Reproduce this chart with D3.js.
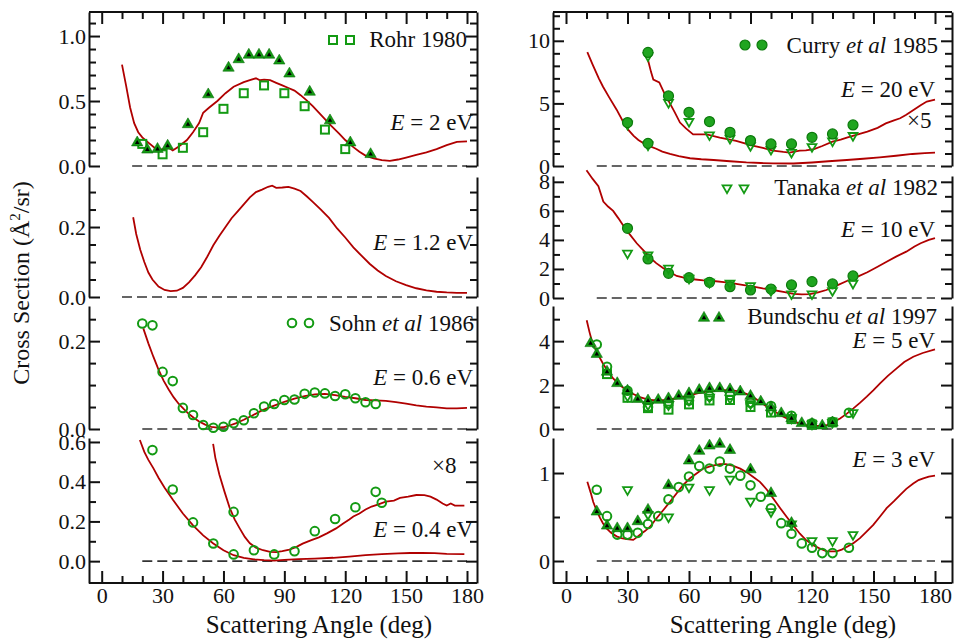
<!DOCTYPE html>
<html>
<head>
<meta charset="utf-8">
<script src="https://cdnjs.cloudflare.com/ajax/libs/d3/7.8.5/d3.min.js"></script>
<style>
  body { margin: 0; background: #fff; }
  svg text { font-family: "Liberation Serif", "Times New Roman", serif; font-size: 23px; fill: #111; }
  svg .axis text { font-size: 22px; }
  svg text.title { font-size: 25px; }
</style>
</head>
<body>
<script>
// ---- data: [angle (deg), cross section (A^2/sr)] ----

// E = 2 eV
const theoryE2 = [[10,0.78],[12,0.62],[14,0.45],[16,0.33],[18,0.26],[20,0.22],[23,0.18],[26,0.14],[28,0.125],[31,0.13],[33,0.14],[35,0.12],[38,0.15],[42,0.2],[45,0.26],[48,0.33],[50,0.41],[53,0.45],[57,0.5],[61,0.56],[65,0.61],[70,0.645],[73,0.66],[76,0.675],[78,0.66],[80,0.665],[83,0.66],[86,0.64],[89,0.62],[92,0.6],[95,0.58],[98,0.545],[101,0.505],[104,0.46],[107,0.41],[110,0.36],[113,0.31],[117,0.25],[120,0.2],[124,0.145],[127,0.11],[130,0.08],[134,0.058],[138,0.045],[142,0.04],[146,0.05],[150,0.065],[155,0.085],[160,0.105],[165,0.13],[170,0.16],[175,0.185],[180,0.19]];
const rohrE2Ang = [20,30,40,50,60,70,80,90,100,110,120];
const rohrE2 = [0.17,0.09,0.14,0.26,0.44,0.56,0.62,0.56,0.46,0.28,0.13];
const bundE2Ang = [17.5,22.5,27.5,32.5,42.5,52.5,62.5,67.5,72.5,77.5,82.5,87.5,92.5,102.5,112.5,122.5,132.5];
const bundE2 = [0.18,0.125,0.13,0.155,0.32,0.55,0.755,0.82,0.855,0.855,0.855,0.81,0.71,0.57,0.35,0.18,0.09];

// E = 1.2 eV
const theoryE12 = [[15.5,0.228],[17,0.18],[19,0.135],[21,0.1],[23,0.07],[25,0.05],[28,0.03],[31,0.02],[34,0.017],[37,0.018],[40,0.026],[43,0.042],[46,0.062],[49,0.085],[52,0.115],[55,0.148],[58,0.175],[61,0.2],[64,0.225],[67,0.245],[70,0.265],[73,0.285],[76,0.3],[79,0.307],[82,0.315],[84,0.318],[86,0.312],[89,0.313],[92,0.315],[95,0.31],[98,0.303],[101,0.288],[104,0.272],[108,0.25],[112,0.226],[116,0.196],[120,0.17],[124,0.142],[128,0.118],[132,0.095],[136,0.076],[140,0.06],[145,0.045],[150,0.034],[155,0.025],[160,0.019],[165,0.015],[170,0.013],[175,0.012],[180,0.012]];

// E = 0.6 eV
const theoryE06 = [[20.5,0.229],[23,0.195],[25.5,0.164],[28,0.135],[30.5,0.11],[33,0.09],[35.5,0.072],[38,0.057],[40.5,0.045],[43,0.034],[45.5,0.025],[48,0.017],[51,0.01],[54,0.005],[57,0.003],[60,0.004],[63,0.008],[66,0.013],[70,0.021],[74,0.03],[78,0.04],[82,0.048],[86,0.055],[90,0.062],[95,0.069],[100,0.075],[105,0.079],[110,0.08],[115,0.077],[120,0.073],[125,0.07],[130,0.066],[135,0.065],[140,0.064],[145,0.061],[150,0.058],[155,0.054],[160,0.051],[165,0.049],[170,0.047],[175,0.047],[180,0.048]];
const sohnE06Ang = [20,25,30,35,40,45,50,55,60,65,70,75,80,85,90,95,100,105,110,115,120,125,130,135];
const sohnE06 = [0.24,0.236,0.13,0.109,0.048,0.032,0.009,0.003,0.005,0.013,0.02,0.036,0.051,0.057,0.066,0.067,0.08,0.083,0.081,0.075,0.079,0.07,0.061,0.057];

// E = 0.4 eV (plus the x8 copy)
const theoryE04 = [[18.8,0.61],[21,0.55],[23,0.51],[25.5,0.467],[28,0.42],[31,0.37],[35,0.31],[40,0.24],[45,0.18],[50,0.13],[55,0.089],[60,0.055],[65,0.03],[70,0.016],[75,0.009],[80,0.005],[85,0.003],[90,0.006],[97,0.01],[105,0.013],[114,0.017],[122,0.023],[130,0.03],[138,0.035],[146,0.039],[152,0.041],[158,0.041],[164,0.04],[170,0.037],[178.7,0.035]];
const theoryE04x8 = [[54.9,0.59],[56,0.52],[58,0.435],[60.5,0.35],[63,0.27],[65.5,0.21],[68,0.165],[70.5,0.122],[73,0.09],[76,0.068],[79.5,0.055],[83,0.047],[86,0.045],[89,0.05],[92.5,0.058],[96,0.072],[99,0.088],[103,0.105],[107,0.12],[111,0.14],[115.5,0.165],[119,0.19],[122,0.21],[124,0.225],[127,0.24],[130,0.26],[133,0.275],[136,0.285],[140,0.3],[144,0.305],[147,0.318],[151,0.325],[155,0.333],[159,0.332],[162,0.325],[165,0.31],[168,0.29],[170,0.28],[172,0.29],[174,0.28],[176,0.28],[178.7,0.28]];
const sohnE04Ang = [25,35,45,55,65];
const sohnE04 = [0.559,0.361,0.195,0.089,0.034];
const sohnE04x8Ang = [65,75,85,95,105,115,125,135,138];
const sohnE04x8 = [0.248,0.055,0.034,0.05,0.151,0.212,0.271,0.349,0.294];

// E = 20 eV (plus the x5 copy)
const theoryE20 = [[10.4,9.1],[13,8.1],[16,7.0],[18,6.35],[21,5.5],[24.7,4.5],[28,3.5],[30.4,2.88],[33,2.4],[35.3,2.08],[38,1.8],[40.1,1.63],[44,1.38],[47,1.15],[50.7,0.96],[55,0.78],[60.5,0.62],[66,0.54],[72,0.48],[80,0.38],[88,0.29],[95,0.24],[101,0.21],[111,0.2],[120,0.28],[128,0.38],[137,0.48],[145,0.58],[153,0.69],[161,0.82],[169,0.96],[175,1.03],[180,1.07]];
const theoryE20x5 = [[40.1,8.4],[41.5,7.5],[42.6,6.9],[45.5,6.67],[48,5.8],[50.7,5.0],[53,4.3],[55.6,3.47],[58.5,3.0],[62,2.53],[68.6,2.53],[75,2.27],[83,2.0],[91,1.63],[96,1.45],[101,1.23],[106,1.12],[109,1.07],[114,1.23],[117,1.25],[121,1.35],[125,1.6],[130,1.95],[134,2.1],[137,2.27],[142,2.5],[147,2.75],[152,3.05],[156,3.4],[160,3.65],[163,3.81],[166,4.1],[169.5,4.48],[173,4.85],[176,5.15],[180,5.3]];
const curryE20Ang = [30,40];
const curryE20 = [3.47,1.81];
const curryE20x5Ang = [40,50,60,70,80,90,100,110,120,130,140];
const curryE20x5 = [9.07,5.6,4.29,3.55,2.69,2.03,1.76,1.76,2.29,2.56,3.28];
const tanakaE20Ang = [30,40];
const tanakaE20 = [3.33,1.68];
const tanakaE20x5Ang = [40,50,60,70,80,90,100,110,120,130,140];
const tanakaE20x5 = [8.8,5.07,3.55,2.48,2.21,1.63,1.33,1.09,1.55,2.0,2.43];

// E = 10 eV
const theoryE10 = [[10,8.8],[13,8.2],[15.8,7.7],[18.2,6.64],[20.5,6.3],[23,6.0],[25.5,5.5],[28,4.97],[31,4.4],[34.5,3.77],[38,3.25],[41,2.78],[44,2.4],[47.5,2.05],[51,1.75],[54,1.52],[58,1.38],[62,1.29],[67,1.22],[72,1.17],[77,1.1],[81.6,1.01],[86,0.9],[91.4,0.78],[96,0.66],[101,0.55],[106,0.42],[111,0.28],[115,0.25],[119,0.26],[123,0.38],[127,0.55],[132,0.85],[137,1.17],[142,1.45],[147,1.77],[152,2.15],[156.4,2.5],[161,2.85],[166,3.19],[170,3.55],[173,3.77],[177,4.0],[180,4.12]];
const curryE10Ang = [30,40,50,60,70,80,90,100,110,120,130,140];
const curryE10 = [4.8,2.69,1.7,1.4,1.08,0.78,0.55,0.62,0.9,1.13,0.97,1.52];
const tanakaE10Ang = [30,40,50,60,70,80,90,100,110,120,130,140];
const tanakaE10 = [3.08,2.97,2.05,1.36,1.08,1.01,0.85,0.51,0.28,0.28,0.51,1.01];

// E = 5 eV
const theoryE5 = [[10.1,4.95],[11.5,4.4],[12.5,4.05],[14,3.7],[15.8,3.36],[18,2.98],[20.6,2.6],[23,2.3],[26.3,2.0],[29,1.8],[32.8,1.59],[36,1.45],[41,1.32],[45,1.3],[49,1.32],[54,1.4],[58.9,1.5],[64,1.62],[68.6,1.7],[73,1.75],[78.4,1.77],[82,1.75],[85,1.7],[88,1.6],[91.4,1.44],[95,1.22],[98,1.01],[101,0.85],[104.4,0.64],[108,0.47],[112.5,0.29],[116,0.19],[120.6,0.14],[124,0.14],[127.2,0.18],[130,0.3],[133.7,0.48],[137,0.7],[140.2,0.94],[143.5,1.2],[146.7,1.47],[150,1.77],[153.2,2.08],[157,2.42],[161.3,2.76],[165,3.05],[169.4,3.29],[174,3.46],[180,3.62]];
const rohrE5Ang = [20,30,40,50,60,70,80,90,100,110,120,130];
const rohrE5 = [2.5,1.42,0.95,0.88,1.12,1.3,1.32,1.0,0.75,0.45,0.2,0.3];
const tanakaE5Ang = [30,40,50,60,70,80,90,100,110,120,130,140];
const tanakaE5 = [1.5,1.1,1.1,1.3,1.45,1.4,1.15,0.85,0.5,0.22,0.3,0.74];
const sohnE5Ang = [15,20,30,40,50,60,70,80,90,100,110,120,130,138];
const sohnE5 = [3.85,2.83,1.74,1.0,1.15,1.3,1.5,1.55,1.2,1.05,0.6,0.26,0.33,0.74];
const bundE5Ang = [12,15,20,25,30,35,40,45,50,55,60,65,70,75,80,85,90,95,100,105,110,115,120,125,130];
const bundE5 = [3.9,3.41,2.6,2.08,1.74,1.36,1.29,1.32,1.39,1.5,1.62,1.77,1.85,1.85,1.8,1.7,1.5,1.24,0.98,0.71,0.48,0.26,0.23,0.15,0.29];

// E = 3 eV
const theoryE3 = [[10.4,0.9],[12,0.78],[13.3,0.67],[15,0.57],[16.6,0.49],[18,0.43],[19.8,0.37],[22,0.32],[24.7,0.28],[27,0.26],[29.6,0.25],[32.8,0.24],[34,0.26],[36.1,0.3],[38.5,0.34],[41,0.39],[44,0.48],[47.5,0.58],[51,0.68],[54,0.77],[57,0.86],[60.5,0.94],[64,1.0],[67,1.05],[71,1.08],[75.1,1.1],[78,1.1],[81.6,1.08],[85,1.05],[88.1,1.01],[91,0.96],[94.6,0.9],[98,0.81],[101.1,0.71],[104.5,0.6],[107.7,0.5],[111,0.4],[114.1,0.31],[117,0.24],[120.6,0.18],[124,0.14],[127.2,0.11],[132,0.11],[134.5,0.13],[136.9,0.16],[140,0.2],[143.4,0.26],[146.5,0.33],[149.9,0.41],[153,0.5],[156.4,0.6],[160,0.68],[162.9,0.75],[166,0.82],[169.4,0.88],[172,0.92],[174.3,0.94],[177,0.96],[180,0.97]];
const tanakaE3Ang = [30,40,50,60,70,80,90,100,110,120,130,140];
const tanakaE3 = [0.81,0.53,0.5,0.84,0.81,0.93,0.68,0.56,0.42,0.23,0.23,0.3];
const sohnE3Ang = [15,20,25,30,35,40,45,50,55,60,65,70,75,80,85,90,95,100,105,110,115,120,125,130,138];
const sohnE3 = [0.81,0.51,0.3,0.3,0.32,0.42,0.51,0.7,0.84,0.96,1.08,1.05,1.13,1.05,0.97,0.86,0.73,0.6,0.43,0.31,0.2,0.15,0.09,0.09,0.15];
const bundE3Ang = [15,20,25,30,35,40,50,60,65,70,75,80,90,100,110];
const bundE3 = [0.56,0.4,0.37,0.37,0.45,0.58,0.86,1.14,1.25,1.31,1.33,1.26,1.04,0.77,0.43];

// tick labels
const xTicks = [0,30,60,90,120,150,180];
const yTicksE2 = [0,0.5,1.0];
const yTicksE12 = [0,0.2];
const yTicksE06 = [0,0.2];
const yTicksE04 = [0,0.2,0.4,0.6];
const yTicksE20 = [0,5,10];
const yTicksE10 = [0,2,4,6,8];
const yTicksE5 = [0,2,4];
const yTicksE3 = [0,1];

// ---- layout ----
const width = 960, height = 640;
const red = "#b00000", green = "#139a13", dark = "#111";
const frameTop = 12, frameBottom = 583;

const svg = d3.select("body").append("svg")
    .attr("width", width)
    .attr("height", height);

const cols = [
  { x: d3.scaleLinear().domain([0,180]).range([101.7,467]), left: 89, right: 477 },
  { x: d3.scaleLinear().domain([0,180]).range([566,935]), left: 553, right: 952 }
];

const panels = [
  { col:0, dom:[0,1.185],    rng:[166,12],  step:0.1,  ticks:yTicksE2,  fmt:".1f", dash0:15,
    curves:[theoryE2], marks:[["square",rohrE2Ang,rohrE2],["tri",bundE2Ang,bundE2]] },
  { col:0, dom:[0,0.343],    rng:[297,177], step:0.05, ticks:yTicksE12, fmt:".1f", dash0:10,
    curves:[theoryE12], marks:[] },
  { col:0, dom:[0,0.28],     rng:[429,306], step:0.05, ticks:yTicksE06, fmt:".1f", dash0:20,
    curves:[theoryE06], marks:[["circle",sohnE06Ang,sohnE06]] },
  { col:0, dom:[-0.11,0.62], rng:[583,438], step:0.1,  ticks:yTicksE04, fmt:".1f", dash0:20,
    curves:[theoryE04,theoryE04x8], marks:[["circle",sohnE04Ang,sohnE04],["circle",sohnE04x8Ang,sohnE04x8]] },
  { col:1, dom:[0,12.3],     rng:[166,12],  step:1,    ticks:yTicksE20, fmt:"d", dash0:15,
    curves:[theoryE20,theoryE20x5],
    marks:[["down",tanakaE20Ang,tanakaE20],["down",tanakaE20x5Ang,tanakaE20x5],["dot",curryE20Ang,curryE20],["dot",curryE20x5Ang,curryE20x5]] },
  { col:1, dom:[0,8.4],      rng:[298,176], step:1,    ticks:yTicksE10, fmt:"d", dash0:15,
    curves:[theoryE10], marks:[["dot",curryE10Ang,curryE10],["down",tanakaE10Ang,tanakaE10]] },
  { col:1, dom:[0,5.6],      rng:[429,306], step:1,    ticks:yTicksE5,  fmt:"d", dash0:15,
    curves:[theoryE5],
    marks:[["square",rohrE5Ang,rohrE5],["down",tanakaE5Ang,tanakaE5],["circle",sohnE5Ang,sohnE5],["tri",bundE5Ang,bundE5]] },
  { col:1, dom:[-0.25,1.398],rng:[583,438], step:0.5,  ticks:yTicksE3,  fmt:"d", dash0:15,
    curves:[theoryE3],
    marks:[["down",tanakaE3Ang,tanakaE3],["circle",sohnE3Ang,sohnE3],["tri",bundE3Ang,bundE3]] }
];

const triBig = d3.symbol(d3.symbolTriangle, 56)();
const triSmall = d3.symbol(d3.symbolTriangle, 9)();
const triOpen = d3.symbol(d3.symbolTriangle, 34)();

function marker(g, kind, cx, cy) {
  const m = g.append("g").attr("transform", `translate(${cx},${cy})`);
  if (kind === "square") {
    m.append("rect").attr("x",-4).attr("y",-4).attr("width",8).attr("height",8)
      .attr("fill","none").attr("stroke",green).attr("stroke-width",2);
  } else if (kind === "circle") {
    m.append("circle").attr("r",4.3).attr("fill","none").attr("stroke",green).attr("stroke-width",2);
  } else if (kind === "dot") {
    m.append("circle").attr("r",5).attr("fill","#1fa51f").attr("stroke","#0c7a0c").attr("stroke-width",1.2);
  } else if (kind === "tri") {
    m.append("path").attr("d",triBig).attr("fill",green).attr("stroke","#0a6e0a").attr("stroke-width",0.6);
    m.append("path").attr("d",triSmall).attr("fill","#000");
  } else if (kind === "down") {
    m.append("path").attr("d",triOpen).attr("transform","rotate(180)")
      .attr("fill","none").attr("stroke",green).attr("stroke-width",1.8);
  }
}

function tickAxis(axisFn, scale, vals, len) {
  return axisFn(scale).tickValues(vals).tickSizeInner(-len).tickSizeOuter(0);
}

const line = d3.line();

panels.forEach(p => {
  const c = cols[p.col];
  const x = c.x;
  const y = d3.scaleLinear().domain(p.dom).range(p.rng);
  const g = svg.append("g");

  // zero line
  g.append("line")
      .attr("x1", x(p.dash0)).attr("x2", x(180))
      .attr("y1", y(0)).attr("y2", y(0))
      .attr("stroke", "#333").attr("stroke-width", 1.6)
      .attr("stroke-dasharray", "10,5");

  // theory curves
  p.curves.forEach(cv => {
    g.append("path")
        .attr("d", line(cv.map(d => [x(d[0]), y(d[1])])))
        .attr("fill", "none")
        .attr("stroke", red)
        .attr("stroke-width", 1.8);
  });

  // measured points
  p.marks.forEach(([kind, ang, val]) => {
    ang.forEach((a, i) => marker(g, kind, x(a), y(val[i])));
  });

  // y axes, ticks pointing inward
  const minor = d3.range(0, p.dom[1], p.step)
      .filter(v => !p.ticks.some(t => Math.abs(t - v) < 1e-6));

  const gl = svg.append("g").attr("class","axis").attr("transform", `translate(${c.left},0)`);
  gl.call(tickAxis(d3.axisLeft, y, p.ticks, 11).tickPadding(3).tickFormat(d3.format(p.fmt)));
  gl.append("g").call(tickAxis(d3.axisLeft, y, minor, 7).tickFormat(""))
    .select(".domain").remove();

  const gr = svg.append("g").attr("class","axis").attr("transform", `translate(${c.right},0)`);
  gr.call(tickAxis(d3.axisRight, y, p.ticks, 11).tickFormat(""));
  gr.append("g").call(tickAxis(d3.axisRight, y, minor, 7).tickFormat(""))
    .select(".domain").remove();
});

// x axes on the top and bottom of each column
const xMinor = d3.range(0, 181, 10).filter(v => v % 30 !== 0);
cols.forEach(c => {
  svg.append("line").attr("x1", c.left).attr("x2", c.right)
      .attr("y1", frameTop).attr("y2", frameTop).attr("stroke", dark).attr("stroke-width", 2);
  svg.append("line").attr("x1", c.left).attr("x2", c.right)
      .attr("y1", frameBottom).attr("y2", frameBottom).attr("stroke", dark).attr("stroke-width", 2);

  const gt = svg.append("g").attr("class","axis xaxis").attr("transform", `translate(0,${frameTop})`);
  gt.call(tickAxis(d3.axisTop, c.x, xTicks, 12).tickFormat(""));
  gt.append("g").call(tickAxis(d3.axisTop, c.x, xMinor, 7).tickFormat(""));

  const gb = svg.append("g").attr("class","axis xaxis").attr("transform", `translate(0,${frameBottom})`);
  gb.call(tickAxis(d3.axisBottom, c.x, xTicks, 12).tickPadding(4).tickFormat(d3.format("d")));
  gb.append("g").call(tickAxis(d3.axisBottom, c.x, xMinor, 7).tickFormat(""));
});

svg.selectAll(".axis").attr("font-size", null).attr("font-family", null);
svg.selectAll(".xaxis .domain").remove();
svg.selectAll(".axis .domain").attr("stroke", dark).attr("stroke-width", 2);
svg.selectAll(".axis line").attr("stroke", dark).attr("stroke-width", 2);
svg.selectAll(".axis text").attr("fill", dark);

// ---- text ----
function rich(x, y, parts, anchor) {
  const t = svg.append("text").attr("x", x).attr("y", y).attr("text-anchor", anchor);
  parts.forEach(([s, it]) => t.append("tspan").attr("font-style", it ? "italic" : null).text(s));
  return t;
}

const labels = [
  [467, 47, [["Rohr 1980",0]], "end"],
  [473, 130, [["E",1],[" = 2 eV",0]], "end"],
  [473, 250, [["E",1],[" = 1.2 eV",0]], "end"],
  [474, 331, [["Sohn ",0],["et al",1],[" 1986",0]], "end"],
  [473, 385, [["E",1],[" = 0.6 eV",0]], "end"],
  [432, 473, [["×8",0]], "start"],
  [473, 537, [["E",1],[" = 0.4 eV",0]], "end"],
  [938, 53, [["Curry ",0],["et al",1],[" 1985",0]], "end"],
  [935, 97, [["E",1],[" = 20 eV",0]], "end"],
  [907, 128, [["×5",0]], "start"],
  [938, 195, [["Tanaka ",0],["et al",1],[" 1982",0]], "end"],
  [935, 237, [["E",1],[" = 10 eV",0]], "end"],
  [937, 324, [["Bundschu ",0],["et al",1],[" 1997",0]], "end"],
  [935, 348, [["E",1],[" = 5 eV",0]], "end"],
  [935, 467, [["E",1],[" = 3 eV",0]], "end"]
];
labels.forEach(l => rich(...l));

const legendMarks = [["square",333,40],["square",350,40],["circle",292,323],["circle",309,323],
  ["dot",745,45],["dot",762,45],["down",727,188],["down",744,188],["tri",704,318],["tri",719,318]];
legendMarks.forEach(([k, lx, ly]) => marker(svg, k, lx, ly));

rich(319, 633, [["Scattering Angle (deg)",0]], "middle").attr("class", "title");
rich(783, 633, [["Scattering Angle (deg)",0]], "middle").attr("class", "title");

const yt = svg.append("text").attr("transform", "translate(29,283) rotate(-90)")
    .attr("text-anchor", "middle").style("font-size", "24px");
yt.append("tspan").text("Cross Section (Å");
yt.append("tspan").attr("font-size", "15px").attr("dy", -9).text("2");
yt.append("tspan").attr("dy", 9).text("/sr)");
</script>
</body>
</html>
